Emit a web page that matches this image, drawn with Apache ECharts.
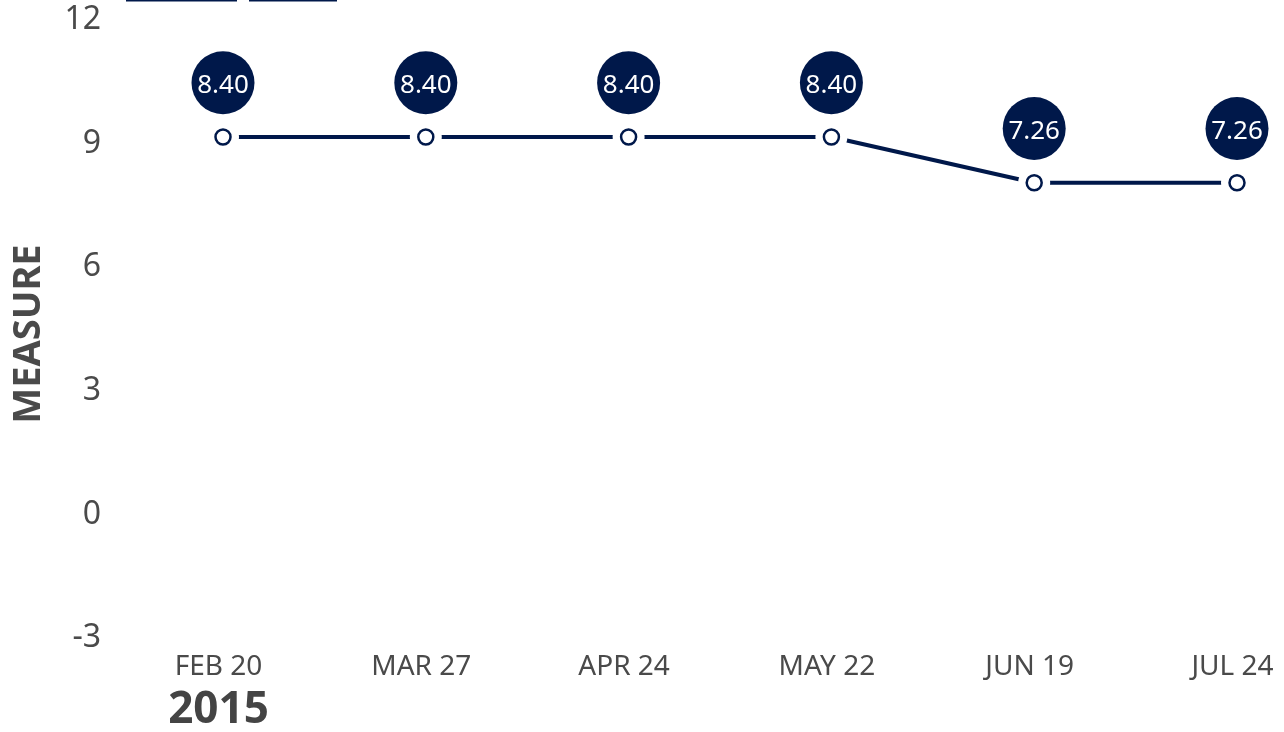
<!DOCTYPE html>
<html>
<head>
<meta charset="utf-8">
<script src="https://cdn.jsdelivr.net/npm/echarts@6/dist/echarts.min.js"></script>
<style>
html,body{margin:0;padding:0;background:#fff;}
#chart{width:1284px;height:732px;}
</style>
</head>
<body>
<div id="chart"></div>
<script>
var categories = ['FEB 20', 'MAR 27', 'APR 24', 'MAY 22', 'JUN 19', 'JUL 24'];
var yearLabel = '2015';
var values = [9.16, 9.16, 9.16, 9.16, 8.05, 8.05];
var valueLabels = ['8.40', '8.40', '8.40', '8.40', '7.26', '7.26'];
var yTicks = { min: -3, max: 12, interval: 3 };
var axisName = 'MEASURE';

var NAVY = '#00184a';
var GRAY = '#4a4a4a';
var FONT = 'Noto Sans';

var chart = echarts.init(document.getElementById('chart'));
chart.setOption({
  animation: false,
  backgroundColor: '#fff',
  grid: { left: 223, right: 47, top: 20, bottom: 94, containLabel: false, outerBoundsMode: 'none' },
  graphic: [
    { type: 'rect', shape: { x: 126, y: 0, width: 111, height: 1.5 }, style: { fill: NAVY } },
    { type: 'rect', shape: { x: 249, y: 0, width: 88, height: 1.5 }, style: { fill: NAVY } }
  ],
  xAxis: {
    type: 'category',
    data: categories,
    boundaryGap: false,
    axisLine: { show: false },
    axisTick: { show: false },
    splitLine: { show: false },
    axisLabel: {
      interval: 0,
      margin: 15,
      color: GRAY,
      fontFamily: FONT,
      fontSize: 28,
      lineHeight: 28,
      padding: [0, 9, 0, 0],
      formatter: function (v, i) {
        return i === 0 ? v + '\n{year|' + yearLabel + '}' : v;
      },
      rich: {
        year: { fontFamily: FONT, fontSize: 44, fontWeight: 'bold', color: '#444', lineHeight: 58 }
      }
    }
  },
  yAxis: {
    type: 'value',
    min: yTicks.min,
    max: yTicks.max,
    interval: yTicks.interval,
    name: axisName,
    nameLocation: 'middle',
    nameGap: 175,
    nameTextStyle: { fontFamily: FONT, fontSize: 38, fontWeight: 'bold', color: GRAY, padding: [0, 10, 0, 0] },
    axisLine: { show: false },
    axisTick: { show: false },
    splitLine: { show: false },
    axisLabel: { margin: 122, color: GRAY, fontFamily: FONT, fontSize: 32 }
  },
  series: [
    {
      type: 'line',
      data: values,
      showSymbol: false,
      lineStyle: { color: NAVY, width: 4 },
      z: 2,
      silent: true
    },
    {
      type: 'scatter',
      data: values,
      symbol: 'circle',
      symbolSize: 32,
      itemStyle: { color: '#fff', opacity: 1 },
      z: 3,
      silent: true
    },
    {
      type: 'scatter',
      data: values,
      symbol: 'circle',
      symbolSize: 15,
      itemStyle: { color: '#fff', borderColor: NAVY, borderWidth: 2.5, opacity: 1 },
      z: 4,
      label: {
        show: true,
        position: 'top',
        distance: 14,
        formatter: function (p) { return valueLabels[p.dataIndex]; },
        color: '#fff',
        fontFamily: FONT,
        fontSize: 26,
        backgroundColor: NAVY,
        borderRadius: 32,
        width: 63,
        height: 57,
        lineHeight: 57,
        padding: [6, 0, 0, 0],
        align: 'center'
      }
    }
  ]
});
</script>
</body>
</html>
